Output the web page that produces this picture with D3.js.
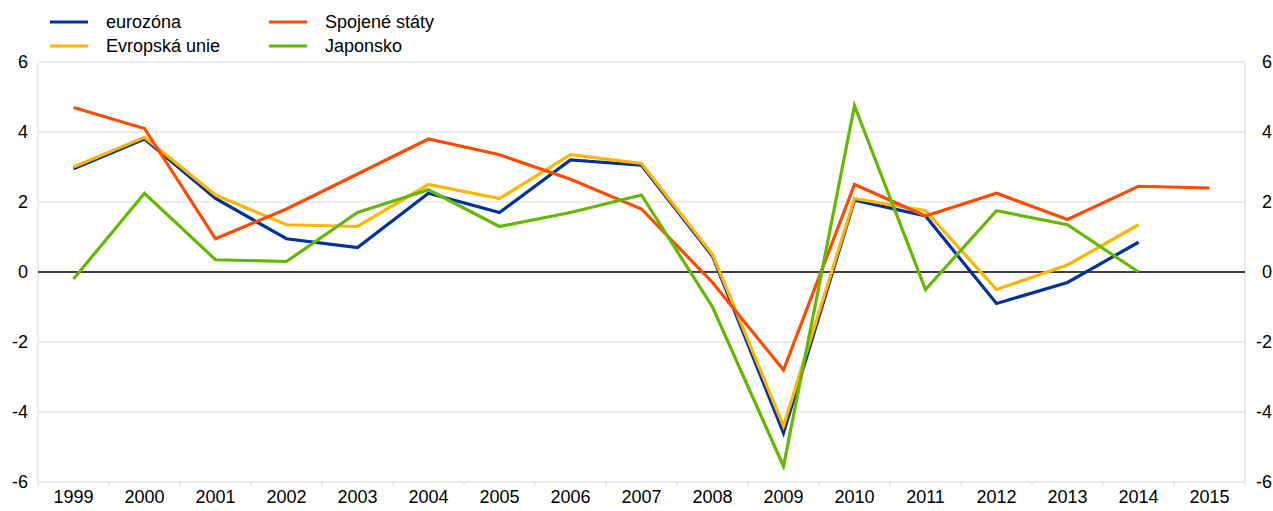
<!DOCTYPE html>
<html>
<head>
<meta charset="utf-8">
<script src="https://cdn.jsdelivr.net/npm/d3@7"></script>
<style>
  body { margin: 0; background: #fff; }
  text { font-family: "Liberation Sans", Arial, sans-serif; }
</style>
</head>
<body>
<div id="chart"></div>
<script>
// data
const years = ["1999","2000","2001","2002","2003","2004","2005","2006","2007","2008","2009","2010","2011","2012","2013","2014","2015"];
const eurozona  = [2.95, 3.8, 2.1, 0.95, 0.7, 2.25, 1.7, 3.2, 3.05, 0.45, -4.6, 2.05, 1.6, -0.9, -0.3, 0.85];
const evropska  = [3.0, 3.85, 2.2, 1.35, 1.3, 2.5, 2.1, 3.35, 3.1, 0.5, -4.4, 2.1, 1.75, -0.5, 0.2, 1.35];
const spojene   = [4.7, 4.1, 0.95, 1.8, 2.8, 3.8, 3.35, 2.65, 1.8, -0.3, -2.8, 2.5, 1.6, 2.25, 1.5, 2.45, 2.4];
const japonsko  = [-0.2, 2.25, 0.35, 0.3, 1.7, 2.35, 1.3, 1.7, 2.2, -1.0, -5.55, 4.75, -0.5, 1.75, 1.35, 0.0];
const yTicks = [-6, -4, -2, 0, 2, 4, 6];

const series = [
  {name: "eurozóna", values: eurozona, color: "#003299"},
  {name: "Evropská unie", values: evropska, color: "#ffb400"},
  {name: "Spojené státy", values: spojene, color: "#ff4b00"},
  {name: "Japonsko", values: japonsko, color: "#65b800"}
];

const width = 1273, height = 511;
const plotLeft = 38, plotRight = 1245, plotTop = 62, plotBottom = 482;
const fontSize = 18;

const svg = d3.select("#chart").append("svg")
  .attr("width", width)
  .attr("height", height);

const x = d3.scaleBand().domain(years).range([plotLeft, plotRight]).padding(0);
const y = d3.scaleLinear().domain([-6, 6]).range([plotBottom, plotTop]);

// gridlines
svg.append("g")
  .selectAll("line")
  .data(yTicks.filter(d => d !== 0))
  .join("line")
  .attr("x1", plotLeft).attr("x2", plotRight)
  .attr("y1", d => y(d)).attr("y2", d => y(d))
  .attr("stroke", "#d9d9d9")
  .attr("stroke-width", 1);

// frame verticals
svg.append("line").attr("x1", plotLeft).attr("x2", plotLeft).attr("y1", plotTop).attr("y2", plotBottom + 4)
  .attr("stroke", "#d9d9d9");
svg.append("line").attr("x1", plotRight).attr("x2", plotRight).attr("y1", plotTop).attr("y2", plotBottom + 4)
  .attr("stroke", "#d9d9d9");

// category tick marks at band boundaries
svg.append("g")
  .selectAll("line")
  .data(years.slice(1))
  .join("line")
  .attr("x1", d => x(d)).attr("x2", d => x(d))
  .attr("y1", plotBottom).attr("y2", plotBottom + 4)
  .attr("stroke", "#d9d9d9");

// left / right value axes (plain hyphen for minus, as in the original)
const fmt = d => String(d);
const yAxisL = svg.append("g").attr("transform", `translate(${plotLeft - 10},0)`)
  .call(d3.axisLeft(y).tickValues(yTicks).tickSize(0).tickPadding(0).tickFormat(fmt));
const yAxisR = svg.append("g").attr("transform", `translate(1272,0)`)
  .call(d3.axisLeft(y).tickValues(yTicks).tickSize(0).tickPadding(0).tickFormat(fmt));
[yAxisL, yAxisR].forEach(g => {
  g.select(".domain").remove();
  g.selectAll("text").attr("font-size", fontSize).attr("fill", "#000")
    .attr("font-family", "'Liberation Sans', Arial, sans-serif");
});

// x axis labels
const xAxis = svg.append("g").attr("transform", `translate(0,${plotBottom + 7})`)
  .call(d3.axisBottom(x).tickSize(0).tickPadding(0));
xAxis.select(".domain").remove();
xAxis.selectAll("text").attr("font-size", fontSize).attr("fill", "#000").attr("dy", "0.8em")
  .attr("font-family", "'Liberation Sans', Arial, sans-serif");

// zero line
svg.append("line")
  .attr("x1", plotLeft).attr("x2", plotRight)
  .attr("y1", y(0)).attr("y2", y(0))
  .attr("stroke", "#000").attr("stroke-width", 1.5);

// series lines
const line = d3.line()
  .x((d, i) => x(years[i]) + x.bandwidth() / 2)
  .y(d => y(d));

svg.append("g")
  .selectAll("path")
  .data(series)
  .join("path")
  .attr("d", d => line(d.values))
  .attr("fill", "none")
  .attr("stroke", d => d.color)
  .attr("stroke-width", 3.2)
  .attr("stroke-linejoin", "miter");

// legend
const legendPos = [[50, 22], [50, 46], [269, 22], [269, 46]];
const legend = svg.append("g")
  .selectAll("g")
  .data(series)
  .join("g")
  .attr("transform", (d, i) => `translate(${legendPos[i][0]},${legendPos[i][1]})`);
legend.append("line")
  .attr("x1", 0).attr("x2", 38)
  .attr("stroke", d => d.color).attr("stroke-width", 3.2);
legend.append("text")
  .attr("x", 56).attr("y", 0).attr("dy", "0.35em")
  .attr("font-size", fontSize).attr("fill", "#000")
  .text(d => d.name);
</script>
</body>
</html>
